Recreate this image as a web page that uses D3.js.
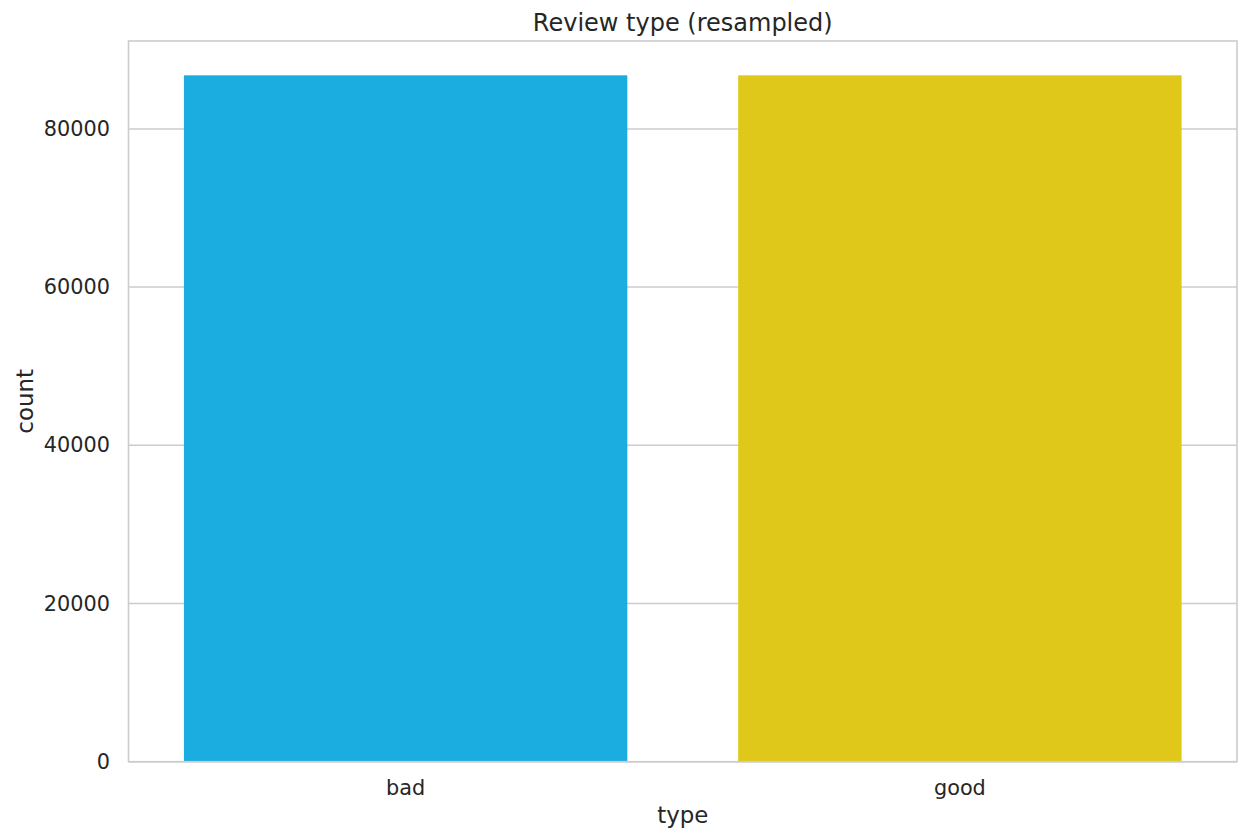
<!DOCTYPE html>
<html><head><meta charset="utf-8">
<script src="https://cdn.jsdelivr.net/npm/d3@7"></script>
<style>body{margin:0;background:#fff}text{font-family:"DejaVu Sans",sans-serif;fill:#262626}</style>
</head><body><svg id="c" width="1238" height="832"></svg>
<script>
const categories = ["bad", "good"];
const counts = [86775, 86775];
const colors = ["#1cade0", "#e0c81a"];
const yTicks = [0, 20000, 40000, 60000, 80000];

const svg = d3.select("#c");
const m = {l:128.5, r:1237, t:41, b:761.7};
const x = d3.scaleBand().domain(categories).range([m.l, m.r]).paddingInner(0.2).paddingOuter(0.1);
const y = d3.scaleLinear().domain([0, d3.max(counts)*1.05]).range([m.b, m.t]);

// grid
svg.append("g").selectAll("line").data(yTicks).join("line")
  .attr("x1", m.l).attr("x2", m.r).attr("y1", d=>y(d)).attr("y2", d=>y(d))
  .attr("stroke", "#cccccc").attr("stroke-width", 1.5);

// bars
svg.append("g").selectAll("rect").data(categories).join("rect")
  .attr("x", d=>x(d)).attr("width", x.bandwidth())
  .attr("y", (d,i)=>y(counts[i])).attr("height", (d,i)=>y(0)-y(counts[i]))
  .attr("fill", (d,i)=>colors[i]);

// frame
svg.append("rect").attr("x", m.l).attr("y", m.t).attr("width", m.r-m.l).attr("height", m.b-m.t)
  .attr("fill", "none").attr("stroke", "#cccccc").attr("stroke-width", 1.6);

// y tick labels
const ya = svg.append("g").attr("transform", `translate(${m.l},0)`)
  .call(d3.axisLeft(y).tickValues(yTicks).tickSize(0).tickPadding(18.5).tickFormat(d3.format("d")));
ya.attr("font-size", null).attr("font-family", null);
ya.select(".domain").remove();
ya.selectAll("text").style("font-size", "20.8px").attr("fill", "#262626");

const xa = svg.append("g").attr("transform", `translate(0,${m.b})`)
  .call(d3.axisBottom(x).tickSize(0).tickPadding(18.5));
xa.attr("font-size", null).attr("font-family", null);
xa.select(".domain").remove();
xa.selectAll("text").style("font-size", "20.8px").attr("fill", "#262626");

svg.append("text").attr("x", (m.l+m.r)/2).attr("y", 823).attr("text-anchor", "middle")
  .style("font-size", "22.9px").text("type");
svg.append("text").attr("transform", `translate(33,${(m.t+m.b)/2}) rotate(-90)`).attr("text-anchor", "middle")
  .style("font-size", "22.9px").text("count");
svg.append("text").attr("x", (m.l+m.r)/2).attr("y", 31).attr("text-anchor", "middle")
  .style("font-size", "24px").text("Review type (resampled)");
</script></body></html>
